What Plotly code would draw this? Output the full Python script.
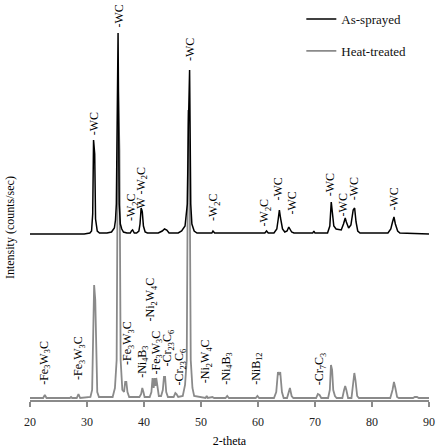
import plotly.graph_objects as go

# ---------------- data ----------------
# Heat-treated profile (2-theta, intensity)
ht_2theta = [20, 22.3, 22.6, 22.9, 25, 27.0, 27.2, 27.4, 28.2, 28.5, 28.8,
             30.6, 30.9, 31.1, 31.25, 31.45, 31.6, 31.8, 32.1,
             34.5, 34.9, 35.2, 35.45, 35.7, 35.9, 36.2, 36.5,
             36.7, 36.9, 37.1, 37.4, 39.2, 39.5, 39.7, 39.9, 40.1,
             41.0, 41.3, 41.5, 41.7, 41.85, 42.0, 42.15, 42.4, 42.6,
             43.0, 43.3, 43.5, 43.7, 43.9, 44.2, 45.2, 45.5, 45.7, 46.0,
             46.8, 47.2, 47.5, 47.75, 48.0, 48.2, 48.5, 48.8,
             50.8, 51.0, 51.2, 52.0, 52.3, 54.3, 54.6, 54.9, 59.6, 59.9, 60.2,
             62.8, 63.2, 63.5, 63.7, 63.9, 64.2, 64.5,
             65.1, 65.4, 65.6, 65.9, 66.2, 70.2, 70.5, 70.8, 71.1,
             72.3, 72.6, 72.8, 73.0, 73.2, 73.5, 73.8,
             74.8, 75.1, 75.3, 75.5, 75.8, 76.4, 76.7, 76.9, 77.1, 77.4, 77.7,
             83.2, 83.6, 83.85, 84.1, 84.4, 84.7, 87.2, 87.5, 87.9, 88.2, 90]
ht_int = [2, 2, 5, 2, 2, 2, 3, 2, 2, 6, 2,
          3, 10, 60, 115, 100, 40, 8, 3,
          3, 12, 40, 310, 250, 40, 10, 8,
          18, 18, 8, 3, 3, 6, 12, 8, 3,
          3, 8, 22, 12, 22, 14, 22, 8, 4,
          4, 10, 23, 23, 8, 3, 3, 7, 6, 3,
          4, 15, 40, 290, 240, 40, 12, 4,
          2, 4, 2, 3, 2, 2, 4, 2, 2, 4, 2,
          2, 8, 28, 25, 28, 8, 2,
          2, 8, 12, 4, 2, 2, 6, 5, 2,
          2, 10, 35, 30, 10, 4, 2,
          2, 10, 14, 10, 2, 2, 15, 27, 20, 4, 2,
          2, 10, 18, 12, 3, 2, 2, 3, 3, 2, 2]

# As-sprayed profile (2-theta, intensity before vertical offset)
as_2theta = [20, 29.5, 30.5, 30.8, 31.0, 31.15, 31.35, 31.5, 31.8, 32.2,
             33.5, 34.3, 34.8, 35.0, 35.15, 35.3, 35.45, 35.65, 35.85, 36.1, 36.4,
             37.0, 37.6, 37.8, 38.0, 38.3, 38.7,
             39.1, 39.3, 39.5, 39.7, 39.9, 40.2, 40.6,
             42.5, 43.2, 43.6, 44.0, 44.4,
             46.0, 46.6, 47.2, 47.6, 47.8, 48.0, 48.2, 48.4, 48.8, 49.3,
             51.9, 52.1, 52.4, 61.2, 61.5, 61.8,
             62.8, 63.3, 63.55, 63.75, 63.95, 64.3, 64.7, 65.1, 65.4, 65.6, 65.9, 66.3,
             69.6, 69.8, 70.0,
             72.2, 72.6, 72.85, 73.05, 73.3, 73.7, 74.3, 74.6, 75.0, 75.3, 75.5, 75.9,
             76.3, 76.7, 76.95, 77.2, 77.5, 77.9,
             82.8, 83.3, 83.6, 83.85, 84.1, 84.5, 84.9, 90]
as_int = [0, 0, 1, 3, 20, 94, 80, 15, 3, 1,
          1, 2, 6, 14, 30, 150, 201, 30, 10, 5, 2,
          1, 1, 3, 4, 1, 1,
          3, 10, 26, 22, 8, 2, 1,
          1, 3, 5, 4, 1,
          1, 3, 8, 30, 110, 164, 30, 10, 3, 1,
          1, 3, 1, 1, 3, 1,
          1, 5, 15, 24, 16, 5, 2, 3, 7, 5, 2, 1,
          1, 3, 1,
          1, 8, 32, 22, 8, 5, 4, 4, 10, 16, 12, 6,
          9, 24, 26, 12, 3, 1,
          1, 5, 12, 17, 10, 3, 1, 0]
as_offset = 166

# phase labels
as_lab_text = ["-WC", "-WC", "-WC", "-W<sub>2</sub>C", "-W -W<sub>2</sub>C", "-W<sub>2</sub>C",
               "-W<sub>2</sub>C", "-WC", "-WC", "-WC", "-WC", "-WC", "-WC"]
as_lab_x = [31.2, 35.45, 48.0, 37.9, 39.6, 52.3, 61.3, 63.5, 65.8, 72.6, 74.9, 76.8, 83.7]
as_lab_y = [263, 370, 337, 177, 185, 177, 172, 198, 183, 202, 182, 198, 187]

ht_lab_text = ["-Fe<sub>3</sub>W<sub>3</sub>C", "-Fe<sub>3</sub>W<sub>3</sub>C",
               "-Fe<sub>3</sub>W<sub>3</sub>C", "-Ni<sub>4</sub>B<sub>3</sub>",
               "-Ni<sub>2</sub>W<sub>4</sub>C", "-Fe<sub>3</sub>W<sub>3</sub>C",
               "-Cr<sub>23</sub>C<sub>6</sub>", "-Cr<sub>23</sub>C<sub>6</sub>",
               "-Ni<sub>2</sub>W<sub>4</sub>C", "-Ni<sub>4</sub>B<sub>3</sub>",
               "-NiB<sub>12</sub>", "-Cr<sub>7</sub>C<sub>3</sub>"]
ht_lab_x = [22.6, 28.6, 37.2, 39.8, 41.3, 42.2, 44.2, 46.3, 50.9, 54.5, 59.8, 70.9]
ht_lab_y = [13, 18, 33, 20, 77, 23, 32, 13, 15, 13, 13, 13]

x_ticks = [20, 30, 40, 50, 60, 70, 80, 90]

# ---------------- figure ----------------
SERIF = "Liberation Serif, Times New Roman, serif"
GRAY = "#8a8a8a"

fig = go.Figure()
fig.add_trace(go.Scatter(x=ht_2theta, y=ht_int, mode="lines", name="Heat-treated",
                         line=dict(color=GRAY, width=1.8), legendgroup="b", legendrank=2))
fig.add_trace(go.Scatter(x=as_2theta, y=[v + as_offset for v in as_int], mode="lines",
                         name="As-sprayed", line=dict(color="black", width=1.5),
                         legendgroup="a", legendrank=1))

for t, x, y in zip(as_lab_text, as_lab_x, as_lab_y):
    fig.add_annotation(x=x, y=y, text=t, textangle=-90, showarrow=False,
                       xanchor="center", yanchor="bottom",
                       font=dict(family=SERIF, size=12, color="black"))
for t, x, y in zip(ht_lab_text, ht_lab_x, ht_lab_y):
    fig.add_annotation(x=x, y=y, text=t, textangle=-90, showarrow=False,
                       xanchor="center", yanchor="bottom",
                       font=dict(family=SERIF, size=12, color="black"))

fig.add_annotation(xref="paper", yref="paper", x=-0.05, y=0.43,
                   text="Intensity (counts/sec)", textangle=-90, showarrow=False,
                   xanchor="center", yanchor="middle",
                   font=dict(family=SERIF, size=12, color="black"))

fig.update_layout(
    width=440, height=448,
    margin=dict(l=30, r=11, t=0, b=48),
    paper_bgcolor="white", plot_bgcolor="white",
    showlegend=True,
    legend=dict(x=0.68, y=0.99, xanchor="left", yanchor="top",
                font=dict(family=SERIF, size=13, color="#111"),
                bgcolor="rgba(0,0,0,0)", tracegroupgap=12, traceorder="grouped",
                itemwidth=30),
    xaxis=dict(range=[20, 90], tickvals=x_ticks, ticktext=[str(v) for v in x_ticks],
               showgrid=False, zeroline=False, showline=True, linecolor=GRAY, linewidth=1.5,
               ticks="outside", ticklen=5, tickcolor=GRAY, tickwidth=1.5,
               ticklabelstandoff=5,
               tickfont=dict(family=SERIF, size=12, color="#222"),
               title=dict(text="2-theta", font=dict(family=SERIF, size=12, color="black"),
                          standoff=8)),
    xaxis2=dict(range=[20, 90], overlaying="x", side="bottom", anchor="y",
                tickvals=x_ticks, showticklabels=False, showgrid=False, zeroline=False,
                showline=False, ticks="inside", ticklen=5, tickcolor=GRAY, tickwidth=1.5),
    yaxis=dict(range=[0, 400], showticklabels=False, showgrid=False, zeroline=False,
               showline=False, ticks=""),
)

fig.write_html("out.html")
